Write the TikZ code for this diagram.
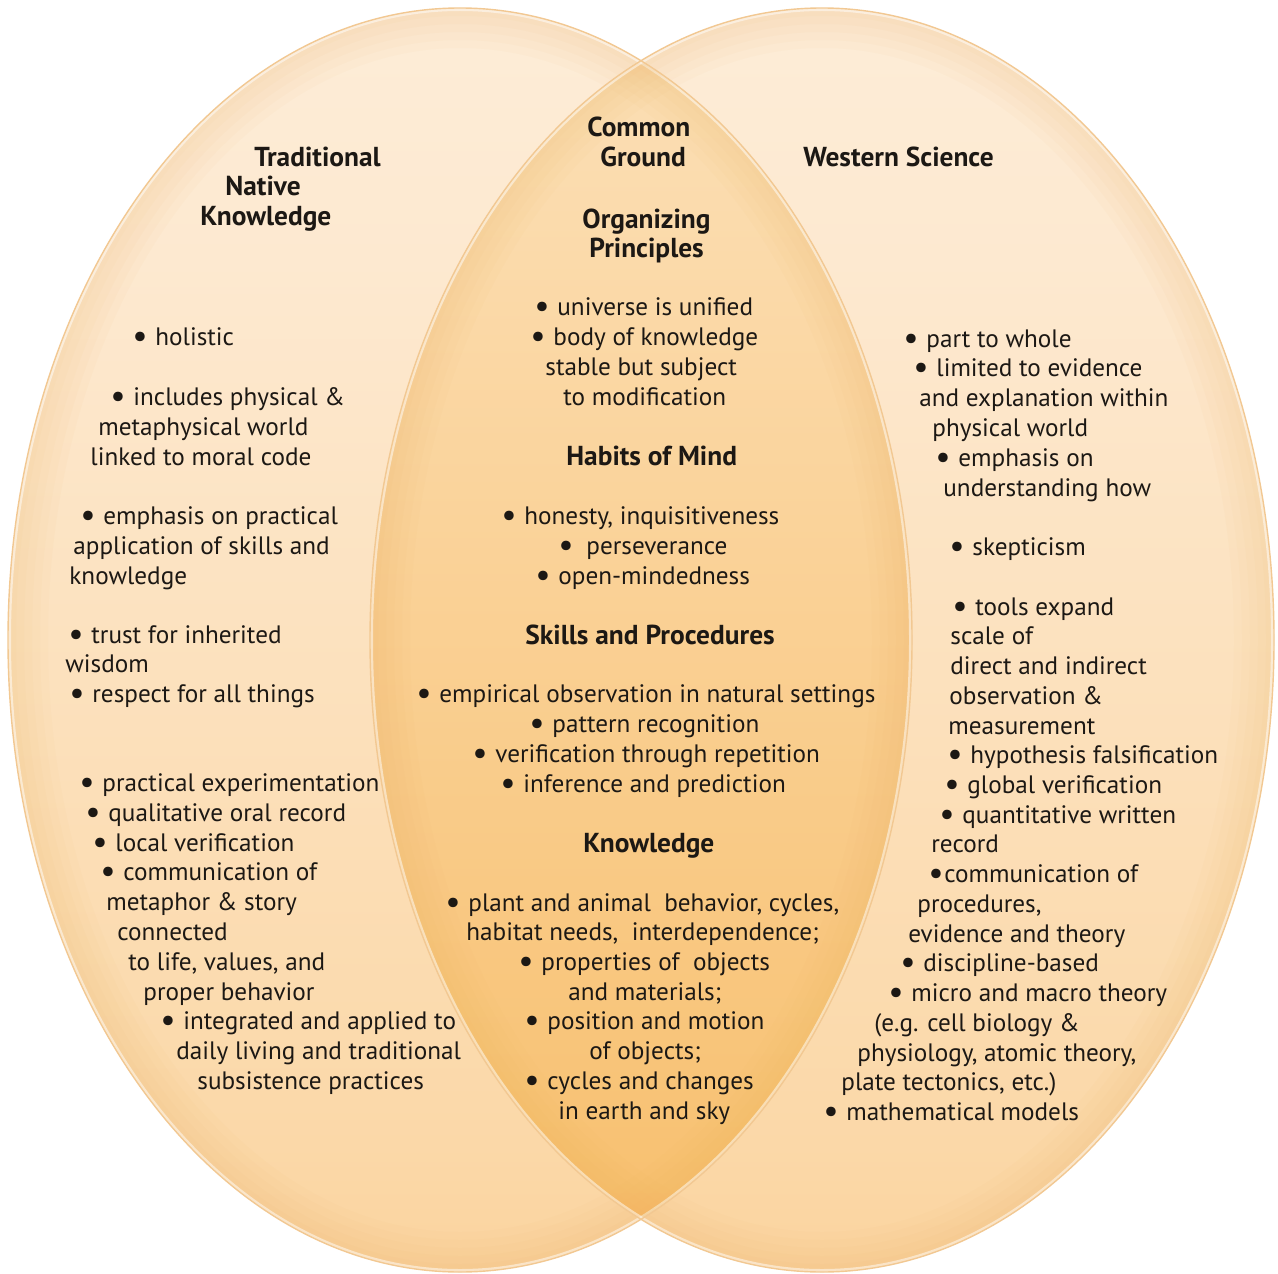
\documentclass[tikz,border=0pt]{standalone}
\usepackage{fontspec}
\setmainfont{PT Sans}
\usetikzlibrary{positioning}
\definecolor{ink}{RGB}{28,24,20}
\definecolor{rimline}{RGB}{242,200,146}
\definecolor{rimglow}{RGB}{244,170,80}
\definecolor{sidetop}{RGB}{254,245,234}
\definecolor{sideup}{RGB}{253,233,208}
\definecolor{sidemid}{RGB}{251,216,168}
\definecolor{sidebot}{RGB}{248,192,114}
\definecolor{midtop}{RGB}{253,236,214}
\definecolor{midup}{RGB}{251,218,170}
\definecolor{midmid}{RGB}{248,194,116}
\definecolor{midbot}{RGB}{244,170,66}
\pgfdeclareverticalshading{sidefill}{100bp}{color(0bp)=(sidebot); color(30bp)=(sidemid); color(65bp)=(sideup); color(100bp)=(sidetop)}
\pgfdeclareverticalshading{midfill}{100bp}{color(0bp)=(midbot); color(30bp)=(midmid); color(65bp)=(midup); color(100bp)=(midtop)}
\newcommand{\bigdot}{\raisebox{-1.2pt}{\fontsize{17}{15}\selectfont •}}
\newcommand{\bul}{\makebox[11.5pt][l]{\bigdot}}
\newcommand{\tbul}{\makebox[8pt][l]{\bigdot}}

\begin{document}
\begin{tikzpicture}[x=0.5pt, y=-0.5pt,
  line/.style={anchor=base west, inner sep=0pt, text=ink,
               text height=8.5pt, text depth=2.2pt,
               font=\fontsize{12.6}{15}\selectfont},
  head/.style={line, text height=9.8pt,
               font=\fontsize{13.7}{15}\selectfont\bfseries},
  lobe/.style={shading=sidefill},
  rim/.style={draw=rimline, line width=0.7pt}
]
\useasboundingbox (0,0) rectangle (1278,1273);
\fill[white] (0,0) rectangle (1278,1273);

% the two lobes and their common part
\shade[lobe] (460,640) ellipse [x radius=226pt, y radius=316pt];
\shade[lobe] (822,640) ellipse [x radius=226pt, y radius=316pt];
\begin{scope}
  \clip (460,640) ellipse [x radius=226pt, y radius=316pt];
  \shade[shading=midfill] (822,640) ellipse [x radius=226pt, y radius=316pt];
\end{scope}
% soft darker band inside each rim
\foreach \cx in {460,822}{
  \begin{scope}
    \clip (\cx,640) ellipse [x radius=226pt, y radius=316pt];
    \foreach \w in {8,16,24,32,40}
      \draw[rimglow, opacity=0.035, line width=\w pt]
        (\cx,640) ellipse [x radius=226pt, y radius=316pt];
    \draw[white, opacity=0.5, line width=3pt]
      (\cx,640) ellipse [x radius=226pt, y radius=316pt];
  \end{scope}
}
\draw[rim] (460,640) ellipse [x radius=226pt, y radius=316pt];
\draw[rim] (822,640) ellipse [x radius=226pt, y radius=316pt];

% headings
\node[head] (tnk1) at (254,167) {Traditional};
\node[head] (tnk2) at (225,196) {Native};
\node[head] (tnk3) at (200,226) {Knowledge};
\node[head] (cg1)  at (587,137) {Common};
\node[head] (cg2)  at (600,167) {Ground};
\node[head] (ws)   at (803,167) {Western Science};
\node[head] (op1)  at (582,228) {Organizing};
\node[head] (op2)  at (589,257) {Principles};
\node[head] (hm)   at (566,465) {Habits of Mind};
\node[head] (sp)   at (525,644) {Skills and Procedures};
\node[head] (kn)   at (583,852) {Knowledge};

% traditional native knowledge
\foreach \px/\py/\txt [count=\i] in {
  132/345/{\bul holistic},
  110/405/{\bul includes physical \&},
  98/435/{metaphysical world},
  90/465/{linked to moral code},
  80/524/{\bul emphasis on practical},
  73/554/{application of skills and},
  69/584/{knowledge},
  68/643/{\bul trust for inherited},
  65/672/{wisdom},
  69/702/{\bul respect for all things},
  79/791/{\bul practical experimentation},
  85/821/{\bul qualitative oral record},
  92/851/{\bul local verification},
  100/880/{\bul communication of},
  106/910/{metaphor \& story},
  117/940/{connected},
  128/970/{to life, values, and},
  143/1000/{proper behavior},
  160/1029/{\bul integrated and applied to},
  176/1059/{daily living and traditional},
  197/1089/{subsistence practices}}
  \node[line] (tl\i) at (\px,\py) {\txt};

% common ground
\foreach \px/\py/\txt [count=\i] in {
  534/315/{\bul universe is unified},
  530/345/{\bul body of knowledge},
  545/375/{stable but subject},
  563/405/{to modification},
  501/524/{\bul honesty, inquisitiveness},
  558/554/{\makebox[14pt][l]{\bigdot}perseverance},
  535/584/{\bul open-mindedness},
  416/702/{\bul empirical observation in natural settings},
  529/732/{\bul pattern recognition},
  472/762/{\bul verification through repetition},
  500/792/{\bul inference and prediction},
  445/911/{\bul plant and animal\ \ behavior, cycles,},
  466/940/{habitat needs,\ \ interdependence;},
  518/970/{\bul properties of\ \ objects},
  568/1000/{and materials;},
  524/1029/{\bul position and motion},
  589/1059/{of objects;},
  524/1089/{\bul cycles and changes},
  558/1119/{in earth and sky}}
  \node[line] (cl\i) at (\px,\py) {\txt};

% western science
\foreach \px/\py/\txt [count=\i] in {
  903/347/{\bul part to whole},
  913/376/{\bul limited to evidence},
  919/406/{and explanation within},
  932/436/{physical world},
  935/466/{\bul emphasis on},
  943/496/{understanding how},
  949/555/{\bul skepticism},
  952/615/{\bul tools expand},
  950/644/{scale of},
  950/674/{direct and indirect},
  949/704/{observation \&},
  948/734/{measurement},
  947/763/{\bul hypothesis falsification},
  944/793/{\bul global verification},
  939/823/{\bul quantitative written},
  931/852/{record},
  928/882/{\tbul communication of},
  917/912/{procedures,},
  908/942/{evidence and theory},
  900/971/{\bul discipline-based},
  888/1001/{\bul micro and macro theory},
  874/1031/{(e.g. cell biology \&},
  857/1061/{physiology, atomic theory,},
  841/1090/{plate tectonics, etc.)},
  823/1120/{\bul mathematical models}}
  \node[line] (wl\i) at (\px,\py) {\txt};
\end{tikzpicture}
\end{document}
